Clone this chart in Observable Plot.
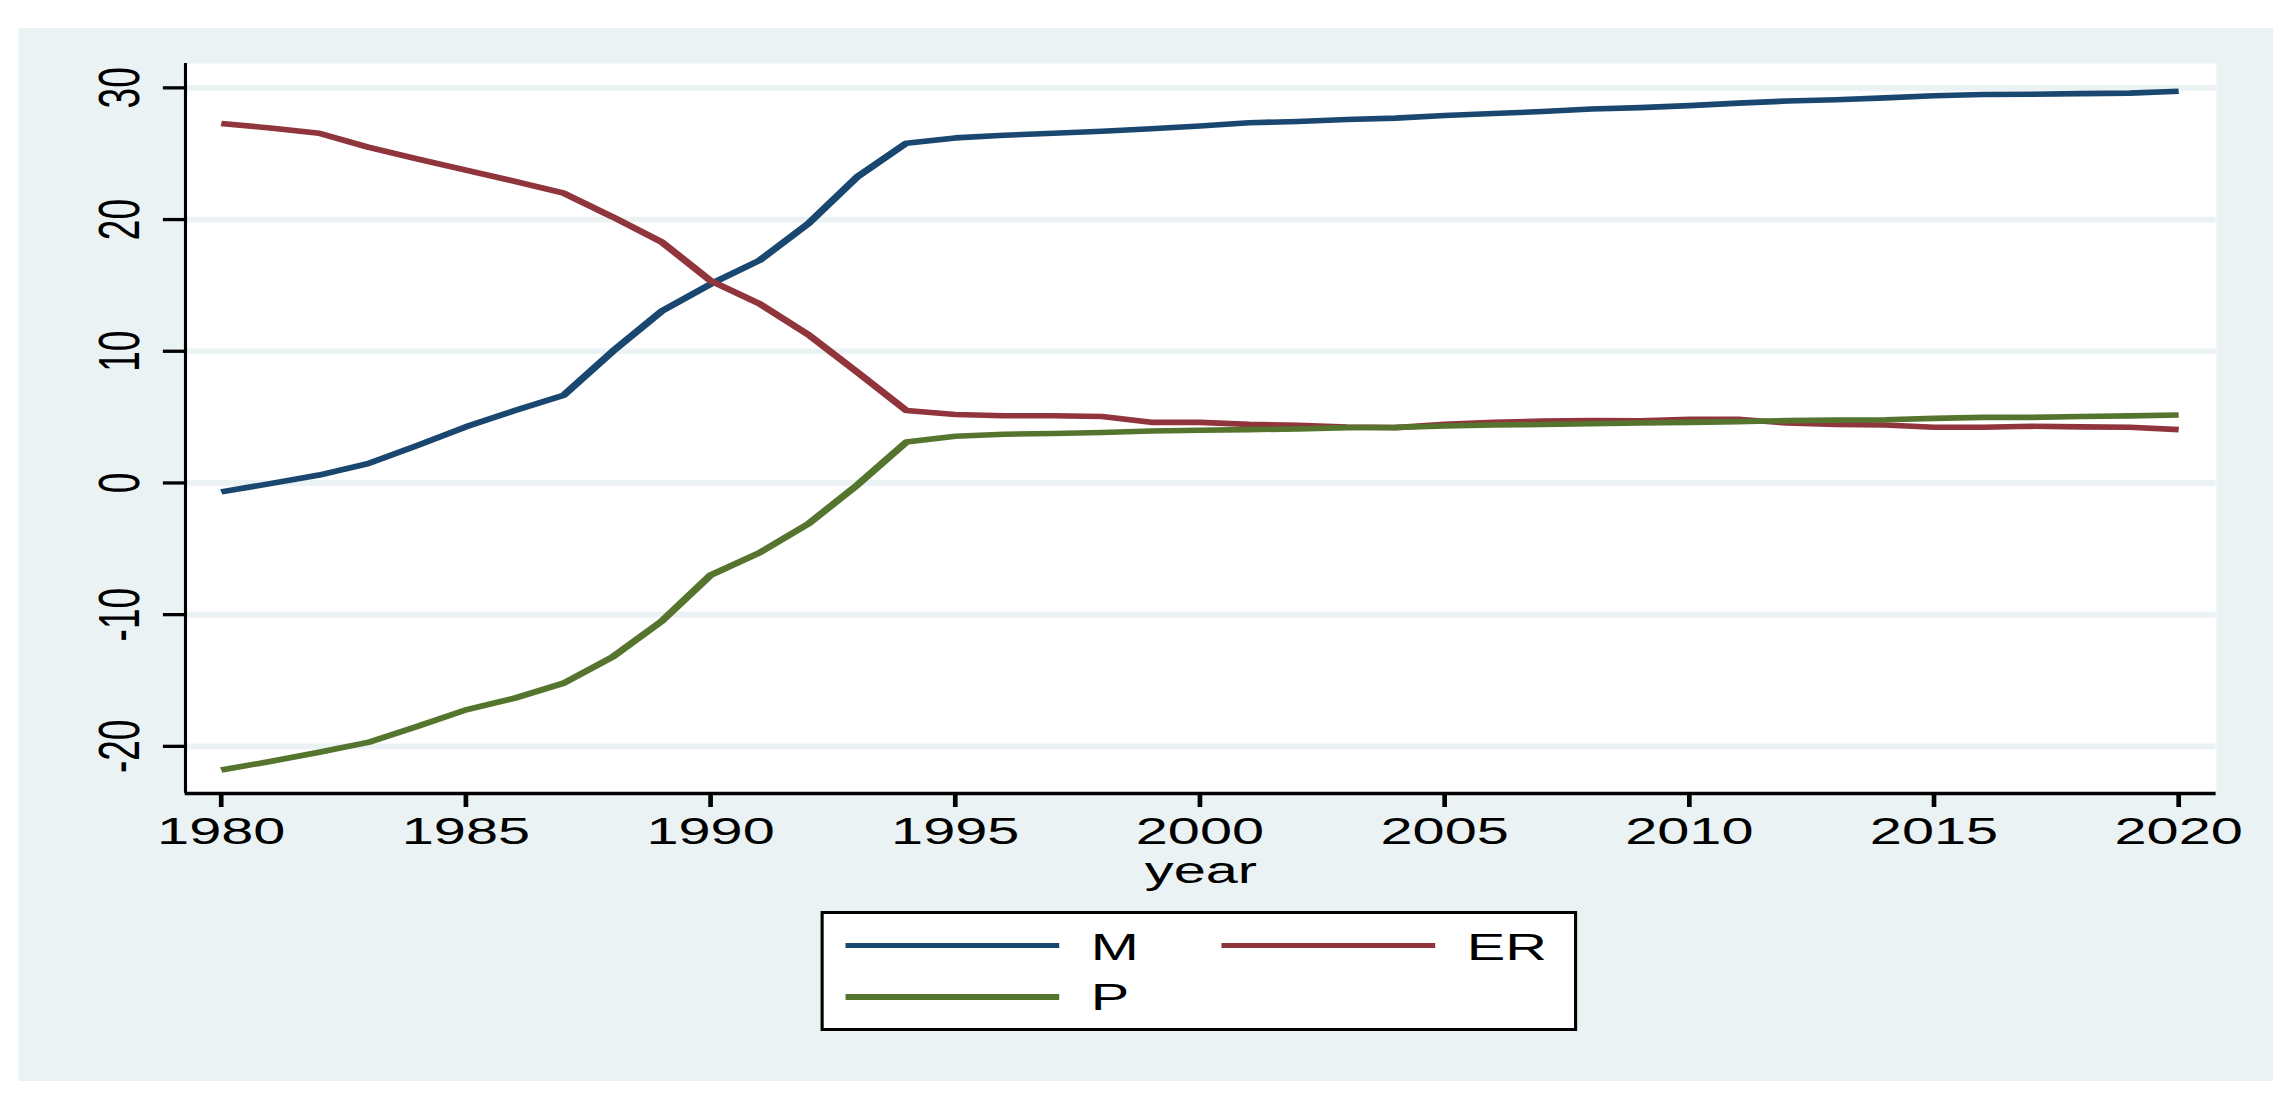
<!DOCTYPE html>
<html>
<head>
<meta charset="utf-8">
<script src="https://cdn.jsdelivr.net/npm/d3@7"></script>
<script src="https://cdn.jsdelivr.net/npm/@observablehq/plot@0.6"></script>
<style>
  html, body { margin: 0; padding: 0; background: #ffffff; }
  body { width: 2289px; height: 1105px; overflow: hidden; position: relative; font-family: "Liberation Sans", Arial, Helvetica, sans-serif; }
  #stage { position: absolute; left: 0; top: 0; width: 1467.31px; height: 1105px; transform: scaleX(1.56); transform-origin: 0 0; }
  #bg { position: absolute; left: 12.18px; top: 28px; width: 1444.87px; height: 1053px; background: #EAF2F3; }
  #chart { position: absolute; left: 0; top: 0; }
  #legend { position: absolute; left: 514.1px; top: 883px; width: 484.6px; height: 120px; box-sizing: border-box;
            background: #ffffff; border-style: solid; border-color: #000; border-width: 3px 2.4px; }
  .key { position: absolute; height: 5.7px; }
  .lab { position: absolute; font-size: 37px; line-height: 37px; color: #000; white-space: nowrap; }
</style>
</head>
<body>
<div id="stage">
  <div id="bg">
    <div id="chart"></div>
    <div id="legend"></div>
  </div>
</div>
<script>
// ---- data ----
const years = [1980,1981,1982,1983,1984,1985,1986,1987,1988,1989,1990,1991,1992,1993,1994,1995,1996,1997,1998,1999,
               2000,2001,2002,2003,2004,2005,2006,2007,2008,2009,2010,2011,2012,2013,2014,2015,2016,2017,2018,2019,2020];
const M  = [-0.68,-0.05,0.6,1.47,2.83,4.26,5.5,6.66,10.0,13.04,15.1,16.9,19.7,23.25,25.8,26.2,26.4,26.55,26.7,26.9,
            27.1,27.35,27.45,27.6,27.7,27.9,28.05,28.2,28.4,28.5,28.65,28.84,29.0,29.1,29.24,29.4,29.5,29.52,29.56,29.6,29.74];
const ER = [27.3,26.95,26.55,25.5,24.6,23.75,22.9,22.0,20.2,18.3,15.35,13.6,11.25,8.4,5.5,5.2,5.1,5.1,5.05,4.6,
            4.6,4.45,4.37,4.25,4.2,4.45,4.6,4.7,4.73,4.72,4.84,4.84,4.55,4.44,4.4,4.23,4.23,4.3,4.26,4.23,4.05];
const P  = [-21.8,-21.15,-20.45,-19.7,-18.5,-17.23,-16.34,-15.2,-13.2,-10.5,-7.0,-5.3,-3.1,-0.15,3.1,3.55,3.7,3.75,3.83,3.94,
            4.0,4.05,4.1,4.2,4.22,4.33,4.4,4.44,4.5,4.55,4.6,4.66,4.73,4.77,4.8,4.9,4.98,4.98,5.05,5.09,5.16];
const seriesNames  = ["M", "ER", "P"];
const seriesColors = ["#1A476F", "#90353B", "#55752F"];
const xTicks = [1980, 1985, 1990, 1995, 2000, 2005, 2010, 2015, 2020];
const yTicks = [-20, -10, 0, 10, 20, 30];
const xDomain = [1979.27, 2020.77];
const yDomain = [-23.58, 31.85];
const xLabel = "year";

// ---- table ----
const seriesValues = {M, ER, P};
const rows = seriesNames.flatMap(name => years.map((yr, i) => ({year: yr, value: seriesValues[name][i], series: name})));

const font = '"Liberation Sans", Arial, Helvetica, sans-serif';

const chart = Plot.plot({
  width: 1444.87,
  height: 880,
  marginLeft: 106.4,
  marginRight: 36.6,
  marginTop: 35,
  marginBottom: 115,
  style: {background: "transparent", fontFamily: font, fontSize: "37px", color: "#000", overflow: "visible"},
  x: {domain: xDomain},
  y: {domain: yDomain},
  color: {domain: seriesNames, range: seriesColors},
  marks: [
    Plot.frame({fill: "#ffffff", stroke: "none"}),
    Plot.gridY(yTicks, {stroke: "#EAF2F3", strokeOpacity: 1, strokeWidth: 5.7}),
    Plot.line(rows, {x: "year", y: "value", z: "series", stroke: "series", strokeWidth: 5.6, strokeLinejoin: "round", strokeLinecap: "butt"}),
    Plot.ruleY([yDomain[0]], {stroke: "#000", strokeWidth: 3.7}),
    Plot.ruleX([xDomain[0]], {stroke: "#000", strokeWidth: 2}),
    Plot.axisX(xTicks, {tickSize: 14, tickPadding: 10, tickFormat: d => String(d), fontSize: 37, strokeWidth: 3, label: null}),
    Plot.text([xLabel], {frameAnchor: "bottom", dy: 90, lineAnchor: "bottom", fontSize: 37, fill: "#000"}),
    Plot.axisY(yTicks, {tickSize: 14, tickPadding: 15.5, tickRotate: -90, tickFormat: d => String(d), fontSize: 37,
                        strokeWidth: 3.3, label: null})
  ]
});
document.getElementById("chart").appendChild(chart);

// ---- legend ----
const legend = document.getElementById("legend");
const legendLayout = [
  {lineLeft: 13.6, lineTop: 28.8, textLeft: 171, textTop: 14.7},
  {lineLeft: 254.6, lineTop: 28.8, textLeft: 412, textTop: 14.7},
  {lineLeft: 13.6, lineTop: 80.1, textLeft: 171, textTop: 65.2}
];
seriesNames.forEach((name, i) => {
  const L = legendLayout[i];
  const key = document.createElement("div");
  key.className = "key";
  key.style.left = L.lineLeft + "px";
  key.style.top = L.lineTop + "px";
  key.style.width = "137.2px";
  key.style.background = seriesColors[i];
  legend.appendChild(key);
  const lab = document.createElement("div");
  lab.className = "lab";
  lab.style.left = L.textLeft + "px";
  lab.style.top = L.textTop + "px";
  lab.textContent = name;
  legend.appendChild(lab);
});
</script>
</body>
</html>
